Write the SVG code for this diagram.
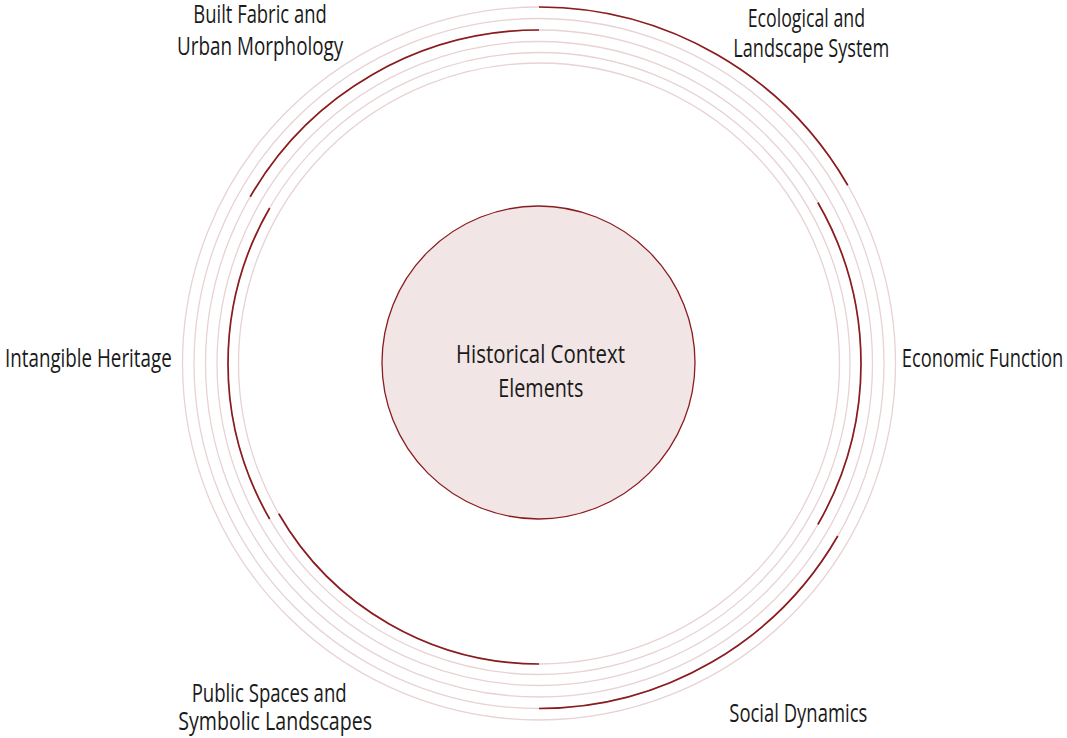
<svg xmlns="http://www.w3.org/2000/svg" width="1067" height="738" viewBox="0 0 1067 738">
<style>
.ring{fill:none;stroke:#e8d2d3;stroke-width:1.3}
.arc{fill:none;stroke:#8a1c1f;stroke-width:1.7}
.lbl{font-family:"Open Sans","Noto Sans","Liberation Sans",sans-serif;font-size:26px;fill:#1a1a1a}
</style>
<rect width="1067" height="738" fill="#ffffff"/>
<g id="rings">
<circle class="ring" cx="539" cy="363.5" r="300.5"/>
<circle class="ring" cx="539" cy="363.5" r="311"/>
<circle class="ring" cx="539" cy="363.5" r="322"/>
<circle class="ring" cx="539" cy="363.5" r="333.5"/>
<circle class="ring" cx="539" cy="363.5" r="345"/>
<circle class="ring" cx="539" cy="363.5" r="356.5"/>
</g>
<g id="connectors">
<path class="arc" d="M539,7 A356.5,356.5 0 0 1 847.74,185.25"/>
<path class="arc" d="M817.86,202.5 A322,322 0 0 1 817.86,524.5"/>
<path class="arc" d="M837.78,536 A345,345 0 0 1 539,708.5"/>
<path class="arc" d="M539,664 A300.5,300.5 0 0 1 278.76,513.75"/>
<path class="arc" d="M269.67,519 A311,311 0 0 1 269.67,208"/>
<path class="arc" d="M250.18,196.75 A333.5,333.5 0 0 1 539,30"/>
</g>
<g id="center">
<circle cx="538.5" cy="362.5" r="156.5" fill="#f1e5e5" stroke="#8a1c1f" stroke-width="1.3"/>
<text class="lbl" x="456" y="363.3" textLength="169" lengthAdjust="spacingAndGlyphs">Historical Context</text>
<text class="lbl" x="498.3" y="396.7" textLength="85" lengthAdjust="spacingAndGlyphs">Elements</text>
</g>
<g id="built-fabric">
<text class="lbl" x="193.3" y="23.3" textLength="133.4" lengthAdjust="spacingAndGlyphs">Built Fabric and</text>
<text class="lbl" x="177" y="54.8" textLength="166.3" lengthAdjust="spacingAndGlyphs">Urban Morphology</text>
</g>
<g id="ecological">
<text class="lbl" x="747.7" y="26.7" textLength="117.3" lengthAdjust="spacingAndGlyphs">Ecological and</text>
<text class="lbl" x="733.3" y="56.7" textLength="156" lengthAdjust="spacingAndGlyphs">Landscape System</text>
</g>
<g id="economic">
<text class="lbl" x="901.7" y="366.7" textLength="161.6" lengthAdjust="spacingAndGlyphs">Economic Function</text>
</g>
<g id="social">
<text class="lbl" x="729.3" y="721.7" textLength="138" lengthAdjust="spacingAndGlyphs">Social Dynamics</text>
</g>
<g id="public-spaces">
<text class="lbl" x="191.7" y="701.7" textLength="155" lengthAdjust="spacingAndGlyphs">Public Spaces and</text>
<text class="lbl" x="178.3" y="730" textLength="193.7" lengthAdjust="spacingAndGlyphs">Symbolic Landscapes</text>
</g>
<g id="intangible">
<text class="lbl" x="5" y="366.7" textLength="166.7" lengthAdjust="spacingAndGlyphs">Intangible Heritage</text>
</g>
</svg>
